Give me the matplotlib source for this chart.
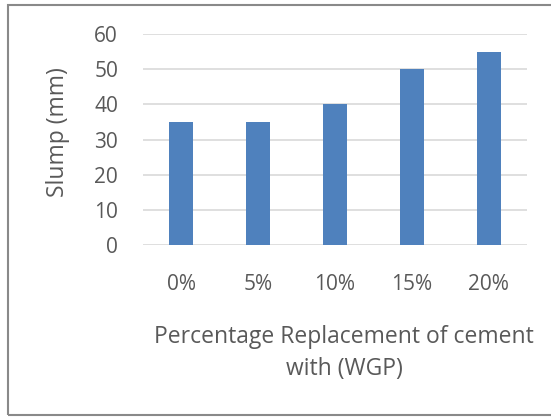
import numpy as np
import matplotlib
matplotlib.use('Agg')
import matplotlib.pyplot as plt
from matplotlib.patches import Rectangle

# slump test results for each replacement level
categories = ['0%', '5%', '10%', '15%', '20%']
slump = [35, 35, 40, 50, 55]
y_ticks = [0, 10, 20, 30, 40, 50, 60]

W, H = 551, 417
text_color = '#595959'
plt.rcParams['font.family'] = ['Open Sans', 'DejaVu Sans']

fig = plt.figure(figsize=(W / 100, H / 100), dpi=100)

# plot area in pixel coords: x 143..527, y 34..245
left, right, top, bottom = 143, 527, 34, 245
ax = fig.add_axes([left / W, 1 - bottom / H, (right - left) / W, (bottom - top) / H])

x = np.arange(len(categories))
ax.bar(x, slump, width=0.31, color='#4F81BD', zorder=3)
ax.set_xlim(-0.5, len(categories) - 0.5)
ax.set_ylim(0, 60)
ax.set_yticks(y_ticks)
ax.set_xticks(x)
ax.set_xticklabels(categories)
ax.tick_params(axis='both', length=0, labelsize=15, colors=text_color)
ax.tick_params(axis='y', pad=18)
ax.tick_params(axis='x', pad=21)
ax.grid(axis='y', color='#D9D9D9', linewidth=1.2, zorder=0)
for s in ax.spines.values():
    s.set_visible(False)

ax.set_ylabel('Slump (mm)', fontsize=16.5, color=text_color)
ax.yaxis.set_label_coords(-0.19, 0.535)

fig.text(344 / W, 1 - 337 / H, 'Percentage Replacement of cement',
         ha='center', va='center', fontsize=16.5, color=text_color)
fig.text(344 / W, 1 - 369 / H, 'with (WGP)',
         ha='center', va='center', fontsize=16.5, color=text_color)

# chart border, right edge runs off the canvas
fig.patches.append(Rectangle((8 / W, 1 - 415 / H), 600 / W, 410 / H,
                             transform=fig.transFigure, fill=False,
                             edgecolor='#898989', linewidth=1.5))

fig.savefig('out.png', dpi=100)
